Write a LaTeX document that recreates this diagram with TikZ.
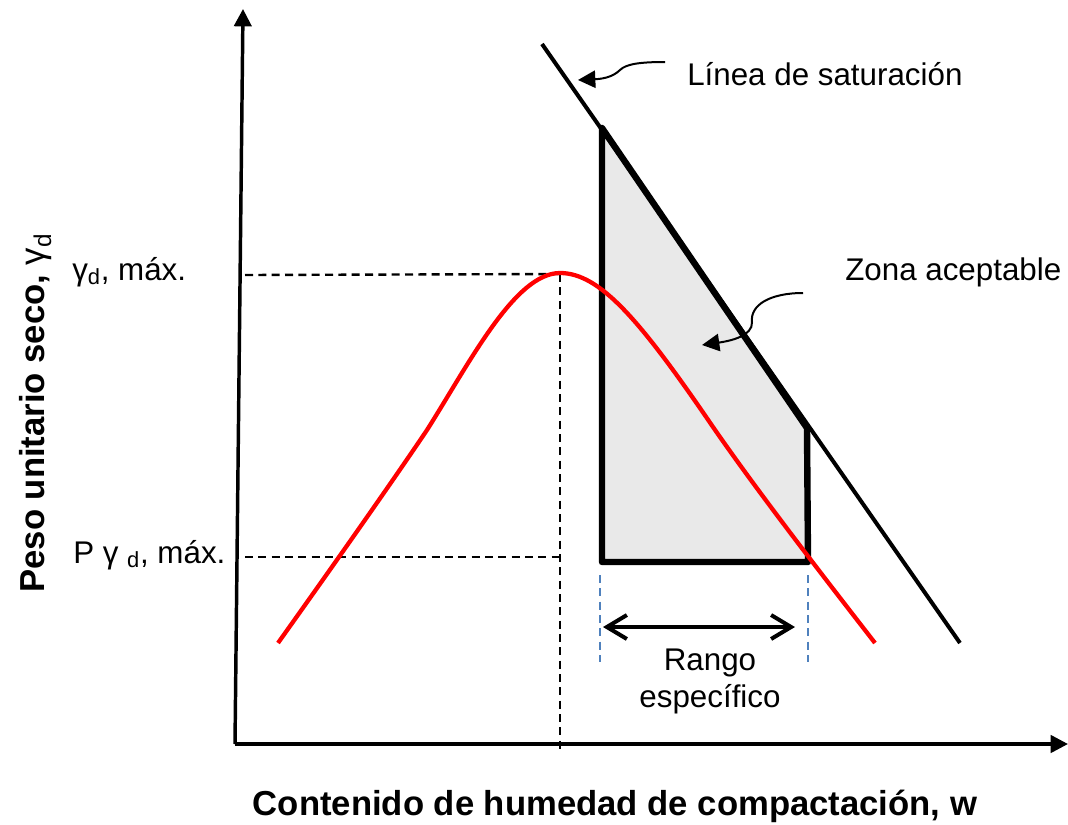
\documentclass[tikz,border=0pt]{standalone}
\usepackage{fontspec}
\setmainfont{Liberation Sans}
\usetikzlibrary{arrows.meta}
\definecolor{offblue}{RGB}{79,129,189}
\definecolor{zonegray}{RGB}{233,233,233}
\begin{document}
\begin{tikzpicture}[x=0.75pt,y=-0.75pt,
  axisline/.style={line width=2.6pt,-{Triangle[length=13pt,width=13pt]}},
  satline/.style={line width=3pt},
  zonebox/.style={fill=zonegray,draw=black,line width=4.8pt,line join=round},
  curve/.style={red,line width=3.2pt},
  guide/.style={line width=1.8pt,dash pattern=on 6pt off 4pt},
  blueguide/.style={offblue,line width=1.5pt,dash pattern=on 6pt off 4pt},
  rangearrow/.style={line width=3pt,{Straight Barb[length=15pt,width=18pt]}-{Straight Barb[length=15pt,width=18pt]}},
  pointer/.style={line width=1.5pt,-{Triangle[length=13pt,width=13pt]}},
  lbl/.style={inner sep=0pt,font=\fontsize{23.5}{28}\selectfont},
  axlbl/.style={inner sep=0pt,font=\fontsize{26}{31}\selectfont\bfseries}
]
\useasboundingbox (0,0) rectangle (1068,825);

% coordinates
\coordinate (O) at (235,744);
\coordinate (Ytop) at (243,9);
\coordinate (Xend) at (1068,744);
\coordinate (S1) at (542,44);
\coordinate (S2) at (960,643);
\coordinate (P1) at (602,128);
\coordinate (P2) at (807,428);
\coordinate (P3) at (808,562);
\coordinate (P4) at (602,562);
\coordinate (Hm1) at (245,275);
\coordinate (Peak) at (560,274);
\coordinate (Vb) at (560,750);
\coordinate (Hp1) at (245,557);
\coordinate (Hp2) at (560,557);
\coordinate (B1t) at (600,575);
\coordinate (B1b) at (600,662);
\coordinate (B2t) at (808,575);
\coordinate (B2b) at (808,662);
\coordinate (RA) at (603,627);
\coordinate (RB) at (795,627);
\coordinate (LA) at (665,62);
\coordinate (LT) at (578,80);
\coordinate (ZA) at (803,293);
\coordinate (ZT) at (702,345);
\coordinate (C0) at (278,643);
\coordinate (C1) at (427,430);
\coordinate (C2) at (560,273);
\coordinate (C3) at (713,427);
\coordinate (C4) at (875,643);

% shaded zone
\draw[zonebox] (P1) -- (P2) -- (P3) -- (P4) -- cycle;

% saturation line
\draw[satline] (S1) -- (S2);

% dashed guides
\draw[guide] (Hm1) -- (Peak);
\draw[guide] (Peak) -- (Vb);
\draw[guide] (Hp1) -- (Hp2);

% compaction curve
\draw[curve] (C0) .. controls (330,570) and (390,485) .. (C1)
  .. controls (470,362) and (515,273) .. (C2)
  .. controls (600,273) and (640,320) .. (C3)
  .. controls (760,495) and (830,585) .. (C4);

% axes
\draw[axisline] (O) -- (Ytop);
\draw[axisline] (O) -- (Xend);

% blue dashed range limits
\draw[blueguide] (B1t) -- (B1b);
\draw[blueguide] (B2t) -- (B2b);

% range arrow
\draw[rangearrow] (RA) -- (RB);

% pointers
\draw[pointer] (LA) .. controls (640,62) and (626,64) .. (620,70)
  .. controls (612,78) and (600,79) .. (LT);
\draw[pointer] (ZA) .. controls (770,293) and (750,305) .. (752,322)
  .. controls (753,336) and (730,341) .. (ZT);

% labels
\node[lbl,anchor=base west] (linea) at (687,85) {Línea de saturación};
\node[lbl,anchor=base west] (zona) at (845,280) {Zona aceptable};
\node[lbl,anchor=base] (rango) at (710,670) {Rango};
\node[lbl,anchor=base] (espec) at (710,707) {específico};
\node[lbl,anchor=base west] (gmax) at (72,280) {γ\textsubscript{d}, máx.};
\node[lbl,anchor=base west] (pgmax) at (73,563) {P γ \textsubscript{d}, máx.};
\node[axlbl,anchor=base] (xlab) at (615,815) {Contenido de humedad de compactación, w};
\node[axlbl,anchor=base,rotate=90] (ylab) at (45,413) {Peso unitario seco, {\mdseries γ\textsubscript{d}}};
\end{tikzpicture}
\end{document}
